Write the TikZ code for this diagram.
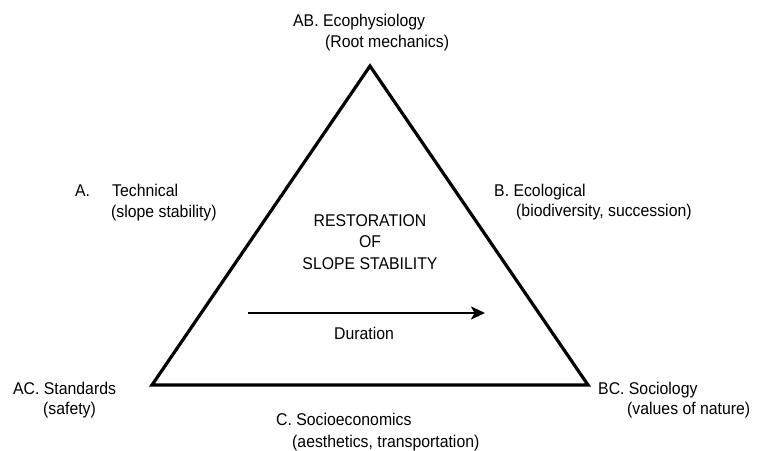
\documentclass[tikz,border=0pt]{standalone}
\usepackage{fontspec}
\setmainfont[FakeStretch=0.93]{Liberation Sans}
\usetikzlibrary{arrows.meta}
\begin{document}
\begin{tikzpicture}[x=1pt,y=-1pt,
  lbl/.style={inner sep=0pt, anchor=west, text height=12.2pt, text depth=0pt, font=\fontsize{17}{19}\selectfont},
  ctr/.style={inner sep=0pt, anchor=center, font=\fontsize{17}{21.5}\selectfont, align=center},
  tri/.style={line width=3.2pt, line join=miter},
  durarrow/.style={line width=2.2pt, -{Stealth[length=14pt,width=13pt,inset=3.5pt]}}]
\useasboundingbox (0,0) rectangle (781,450);
\coordinate (apex) at (370,66);
\coordinate (bl) at (152,385);
\coordinate (br) at (588,385);
\draw[tri] (apex) -- (bl) -- (br) -- cycle;

\node[lbl] (ab1) at (293,20) {AB. Ecophysiology};
\node[lbl] (ab2) at (325,41) {(Root mechanics)};
\node[lbl] (a0) at (75,190) {A.};
\node[lbl] (a1) at (112,190) {Technical};
\node[lbl] (a2) at (111,211) {(slope stability)};
\node[lbl] (b1) at (494,190) {B. Ecological};
\node[lbl] (b2) at (516,210) {(biodiversity, succession)};
\node[ctr] (rest) at (370,242) {RESTORATION\\OF\\SLOPE STABILITY};
\coordinate (d0) at (248,313);
\coordinate (d1) at (485,313);
\draw[durarrow] (d0) -- (d1);
\node[ctr] (dur) at (364,333) {Duration};
\node[lbl] (ac1) at (13,388) {AC. Standards};
\node[lbl] (ac2) at (43,408) {(safety)};
\node[lbl] (bc1) at (598,388) {BC. Sociology};
\node[lbl] (bc2) at (627,408) {(values of nature)};
\node[lbl] (c1) at (276,419) {C. Socioeconomics};
\node[lbl] (c2) at (292,441) {(aesthetics, transportation)};
\end{tikzpicture}
\end{document}
